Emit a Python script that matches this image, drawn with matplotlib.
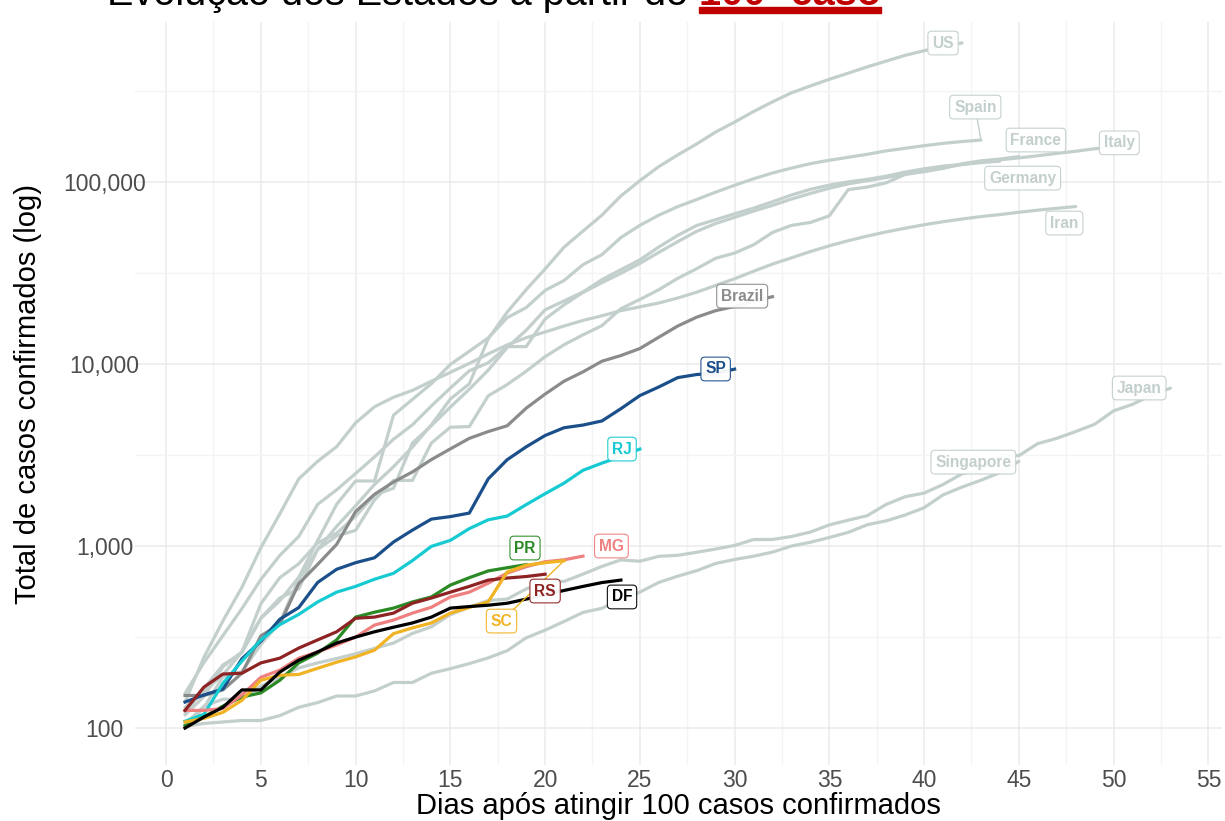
import matplotlib
matplotlib.use('Agg')
import matplotlib.pyplot as plt
from matplotlib.patches import Rectangle

plt.rcParams['font.family'] = ['Liberation Sans', 'DejaVu Sans']

# Casos acumulados, dia 1 = primeiro dia com 100+ casos
us = [118, 149, 217, 262, 402, 518, 583, 959, 1281, 1663, 2179, 2726, 3499,
      4632, 6421, 7783, 13747, 19273, 25600, 33276, 43843, 53736, 65778,
      83836, 101657, 121478, 140886, 161807, 188172, 213372, 243762, 275586,
      308853, 337072, 366667, 396223, 429052, 461437, 496535, 526396, 555313,
      580619]
spain = [120, 165, 222, 259, 400, 500, 673, 1073, 1695, 2277, 2277, 5232,
         6391, 7798, 9942, 11748, 13910, 17963, 20410, 25374, 28768, 35136,
         39885, 49515, 57786, 65719, 73235, 80110, 87956, 95923, 104118,
         112065, 119199, 126168, 131646, 136675, 141942, 148220, 153222,
         158273, 163027, 166831, 170099]
italy = [155, 229, 322, 453, 655, 888, 1128, 1694, 2036, 2502, 3089, 3858,
         4636, 5883, 7375, 9172, 10149, 12462, 12462, 17660, 21157, 24747,
         27980, 31506, 35713, 41035, 47021, 53578, 59138, 63927, 69176, 74386,
         80589, 86498, 92472, 97689, 101739, 105792, 110574, 115242, 119827,
         124632, 128948, 132547, 135586, 139422, 143626, 147577, 152271,
         156363, 159516]
france = [100, 130, 191, 204, 288, 380, 656, 957, 1136, 1219, 1794, 2293,
          2293, 3681, 4496, 4532, 6683, 7715, 9124, 10970, 12758, 14463,
          16243, 20123, 22622, 25600, 29551, 33402, 38105, 40708, 45170,
          52827, 57749, 59929, 65202, 90848, 93773, 98963, 110065, 113959,
          118781, 125931, 130727, 133670, 137877]
germany = [130, 159, 196, 262, 482, 670, 799, 1040, 1176, 1457, 1908, 2078,
           3675, 4585, 5795, 7272, 9257, 12327, 15320, 19848, 22213, 24873,
           29056, 32986, 37323, 43938, 50871, 57695, 62095, 66885, 71808,
           77872, 84794, 91159, 96092, 100123, 103374, 107663, 113296, 118181,
           122171, 124908, 127854, 130072]
iran = [139, 245, 388, 593, 978, 1501, 2336, 2922, 3513, 4747, 5823, 6566,
        7161, 8042, 9000, 10075, 11364, 12729, 13938, 14991, 16169, 17361,
        18407, 19644, 20610, 21638, 23049, 24811, 27017, 29406, 32332, 35408,
        38309, 41495, 44605, 47593, 50468, 53183, 55743, 58226, 60500, 62589,
        64586, 66220, 68192, 70029, 71686, 73303]
japan = [105, 132, 144, 144, 170, 189, 214, 228, 241, 256, 274, 293, 331,
         360, 420, 461, 502, 511, 581, 639, 639, 701, 773, 839, 825, 878, 889,
         924, 963, 1007, 1086, 1086, 1128, 1193, 1307, 1387, 1468, 1693, 1866,
         1953, 2178, 2495, 2617, 3139, 3139, 3654, 3906, 4257, 4667, 5530,
         6005, 6748, 7370]
singapore = [102, 106, 108, 110, 110, 117, 130, 138, 150, 150, 160, 178, 178,
             200, 212, 226, 243, 266, 313, 345, 385, 432, 455, 509, 558, 631,
             683, 732, 802, 844, 879, 926, 1000, 1049, 1114, 1189, 1309, 1375,
             1481, 1623, 1910, 2108, 2299, 2532, 2918]
brazil = [151, 151, 162, 200, 321, 372, 621, 793, 1021, 1546, 1924, 2247,
          2554, 2985, 3417, 3904, 4256, 4579, 5717, 6836, 8044, 9056, 10360,
          11130, 12161, 14034, 16170, 18092, 19638, 20727, 22192, 23430]

# Estados
sp = [139, 152, 164, 240, 300, 396, 459, 631, 745, 810, 862, 1052, 1223,
      1406, 1451, 1517, 2339, 2981, 3506, 4048, 4466, 4620, 4866, 5682, 6708,
      7480, 8419, 8755, 8900, 9371]
rj = [109, 119, 176, 233, 305, 370, 421, 493, 558, 600, 657, 708, 832, 996,
      1074, 1246, 1394, 1461, 1688, 1938, 2216, 2607, 2855, 3100, 3410]
pr = [103, 115, 132, 148, 156, 183, 228, 258, 305, 407, 433, 456, 493, 525,
      610, 670, 730, 760, 790]
mg = [125, 125, 128, 152, 190, 208, 242, 262, 286, 316, 368, 392, 428, 461,
      525, 558, 625, 710, 770, 820, 840, 880]
rs = [125, 168, 198, 200, 228, 242, 275, 305, 338, 401, 407, 428, 485, 518,
      558, 600, 650, 667, 680, 700]
sc = [108, 113, 122, 142, 183, 195, 197, 213, 230, 246, 268, 330, 355, 378,
      428, 460, 494, 720, 785, 810, 830]
df = [100, 115, 130, 162, 162, 203, 236, 262, 293, 316, 338, 358, 378, 407,
      456, 465, 473, 485, 511, 540, 570, 600, 630, 650]

paises = {'US': us, 'Spain': spain, 'Italy': italy, 'France': france,
          'Germany': germany, 'Iran': iran, 'Japan': japan,
          'Singapore': singapore}
estados = {'SP': sp, 'RJ': rj, 'PR': pr, 'MG': mg, 'RS': rs, 'SC': sc,
           'DF': df}

cinza = '#c3cfcd'
cores = {'Brazil': '#8a8c8c', 'SP': '#1b4f8a', 'RJ': '#16cad2',
         'PR': '#2b8a24', 'MG': '#ef8080', 'RS': '#8e2323', 'SC': '#f0b323',
         'DF': '#000000'}

# posição dos rótulos (dia, casos) e se leva linha guia
rotulos = {'US': (41.0, 580000, False), 'Spain': (42.7, 258000, True),
           'France': (45.9, 170000, False), 'Italy': (50.3, 164000, False),
           'Germany': (45.2, 105000, False), 'Iran': (47.4, 59500, False),
           'Japan': (51.35, 7380, False), 'Singapore': (42.6, 2890, False),
           'Brazil': (30.4, 23600, False), 'SP': (29.0, 9390, False),
           'RJ': (24.06, 3410, False), 'PR': (18.94, 975, False),
           'MG': (23.5, 1000, False), 'RS': (20.0, 566, False),
           'SC': (17.7, 387, True), 'DF': (24.06, 525, False)}

fig = plt.figure(figsize=(12.25, 8.21), dpi=100)
ax = fig.add_axes([135 / 1225, 1 - 765 / 821, (1222 - 135) / 1225,
                   (765 - 22) / 821])

ax.set_yscale('log')
ax.set_xlim(-1.64, 55.72)
ax.set_ylim(10 ** 1.797, 10 ** 5.879)

ax.set_xticks(range(0, 56, 5))
ax.set_xticks([x + 2.5 for x in range(0, 55, 5)], minor=True)
ax.set_yticks([100, 1000, 10000, 100000])
ax.set_yticklabels(['100', '1,000', '10,000', '100,000'], ha='center')
ax.set_yticks([10 ** 2.5, 10 ** 3.5, 10 ** 4.5, 10 ** 5.5], minor=True)
ax.yaxis.set_minor_formatter(plt.NullFormatter())
ax.grid(which='major', color='#ebebeb', lw=1.1)
ax.grid(which='minor', color='#f4f4f4', lw=1.0)
ax.set_axisbelow(True)
for s in ax.spines.values():
    s.set_visible(False)
ax.tick_params(which='both', length=0, labelsize=16.5, colors='#4d4d4d')
ax.tick_params(axis='x', pad=3)
ax.tick_params(axis='y', pad=22)

ax.set_xlabel('Dias após atingir 100 casos confirmados', fontsize=21,
              labelpad=0)
ax.set_ylabel('Total de casos confirmados (log)', fontsize=21)
ax.yaxis.set_label_coords((42 - 135) / 1087, 0.5)

lw = 2.3
fim = {}
for nome, v in paises.items():
    dias = list(range(1, len(v) + 1))
    ax.plot(dias, v, color=cinza, lw=lw, solid_capstyle='round', zorder=2)
    fim[nome] = (dias[-1], v[-1])

dias = list(range(1, len(brazil) + 1))
ax.plot(dias, brazil, color=cores['Brazil'], lw=lw, zorder=3)
fim['Brazil'] = (dias[-1], brazil[-1])

for nome, v in estados.items():
    dias = list(range(1, len(v) + 1))
    ax.plot(dias, v, color=cores[nome], lw=lw, zorder=4)
    fim[nome] = (dias[-1], v[-1])

for nome, (dx, dy, guia) in rotulos.items():
    cor = cores.get(nome, cinza)
    if guia:
        ax.plot([dx, fim[nome][0]], [dy, fim[nome][1]], color=cor, lw=1.0,
                zorder=5)
    ax.text(dx, dy, nome, ha='center', va='center', fontsize=11.2,
            fontweight='bold', color=cor, zorder=6,
            bbox=dict(boxstyle='round,pad=0.28,rounding_size=0.25',
                      fc='white', ec=cor, lw=0.8, alpha=0.95))

# título cortado no topo
t1 = fig.text(107 / 1225, 1 - 5 / 821, 'Evolução dos Estados a partir do ',
              fontsize=28.5, ha='left', va='baseline', color='black')
fig.canvas.draw()
bb = t1.get_window_extent()
t2 = fig.text(bb.x1 / 1225, 1 - 5 / 821, '100º caso', fontsize=28.5,
              fontweight='bold', ha='left', va='baseline', color='#c00000')
fig.canvas.draw()
bb2 = t2.get_window_extent()
fig.patches.append(Rectangle((bb2.x0 / 1225, 1 - 13 / 821),
                             (bb2.x1 - bb2.x0) / 1225, 6 / 821,
                             transform=fig.transFigure, color='#c00000'))

fig.savefig('out.png', dpi=100)
